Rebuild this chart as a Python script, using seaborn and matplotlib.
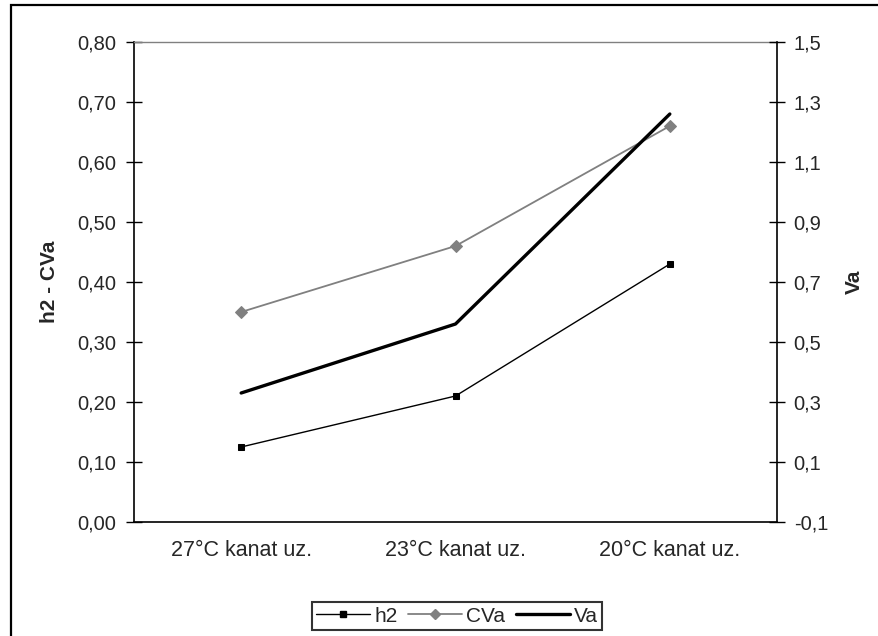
import matplotlib
matplotlib.use("Agg")
import matplotlib.pyplot as plt
from matplotlib.patches import Rectangle
from matplotlib.lines import Line2D
from matplotlib.ticker import FixedLocator, FuncFormatter
import seaborn as sns
import pandas as pd

# Data
categories = ["27°C kanat uz.", "23°C kanat uz.", "20°C kanat uz."]
h2 = [0.125, 0.21, 0.43]
cva = [0.35, 0.46, 0.66]
va = [0.33, 0.56, 1.26]

left_ticks = [0.0, 0.1, 0.2, 0.3, 0.4, 0.5, 0.6, 0.7, 0.8]
right_ticks = [-0.1, 0.1, 0.3, 0.5, 0.7, 0.9, 1.1, 1.3, 1.5]

sns.set_style("white")
plt.rcParams["font.family"] = ["Liberation Sans", "DejaVu Sans"]
plt.rcParams["font.size"] = 15

pos = list(range(len(categories)))
df = pd.DataFrame({"pos": pos, "cat": categories, "h2": h2, "CVa": cva, "Va": va})

fig = plt.figure(figsize=(8.79, 6.36), dpi=100)
ax = fig.add_axes([134 / 879, 1 - 522 / 636, (777 - 134) / 879, (522 - 42) / 636])
ax2 = ax.twinx()

sns.lineplot(data=df, x="pos", y="h2", ax=ax, color="black", linewidth=1.0,
             marker="s", markersize=4.5, markeredgecolor="black", legend=False)
sns.lineplot(data=df, x="pos", y="CVa", ax=ax, color="#808080", linewidth=1.3,
             marker="D", markersize=6, markeredgecolor="#808080", legend=False)
sns.lineplot(data=df, x="pos", y="Va", ax=ax2, color="black", linewidth=2.4,
             legend=False)

ax.set_xlim(-0.5, len(categories) - 0.5)
ax.set_ylim(0, 0.8)
ax2.set_ylim(-0.1, 1.5)

comma = lambda d: FuncFormatter(lambda v, p: f"{v:.{d}f}".replace(".", ","))
ax.yaxis.set_major_locator(FixedLocator(left_ticks))
ax.yaxis.set_major_formatter(comma(2))
ax2.yaxis.set_major_locator(FixedLocator(right_ticks))
ax2.yaxis.set_major_formatter(comma(1))

# category boundaries carry the tick marks, centres carry the labels
ax.xaxis.set_major_locator(FixedLocator([p - 0.5 for p in pos] + [pos[-1] + 0.5]))
ax.xaxis.set_major_formatter(FuncFormatter(lambda v, p: ""))
ax.xaxis.set_minor_locator(FixedLocator(pos))
ax.xaxis.set_minor_formatter(FuncFormatter(lambda v, p: categories[int(round(v))]))
ax.tick_params(axis="x", which="minor", length=0, pad=13, labelsize=15.5)
ax.tick_params(axis="x", which="major", direction="inout", length=11, width=1, color="black")
ax.tick_params(axis="y", direction="inout", length=11, width=1, color="black", pad=7.5, labelsize=14.5)
ax2.tick_params(axis="y", direction="inout", length=11, width=1, color="black", pad=6.5, labelsize=14.5)

ax.set_xlabel("")
ax.set_ylabel("h2 - CVa", fontweight="bold", fontsize=15)
ax2.set_ylabel("Va", fontweight="bold", fontsize=15)
ax.yaxis.set_label_coords((59 - 134) / 643, 0.5)
ax2.yaxis.set_label_coords((845 - 134) / 643, 0.5)

for name, sp in ax.spines.items():
    sp.set_visible(True)
    sp.set_color("black")
    sp.set_linewidth(1.2)
ax.spines["top"].set_color("#808080")
ax.spines["top"].set_linewidth(1.0)
ax.spines["right"].set_visible(False)
for name in ["left", "top", "bottom"]:
    ax2.spines[name].set_visible(False)
ax2.spines["right"].set_color("black")
ax2.spines["right"].set_linewidth(1.2)

handles = [
    Line2D([], [], color="black", linewidth=1.0, marker="s", markersize=4.5),
    Line2D([], [], color="#808080", linewidth=1.3, marker="D", markersize=5),
    Line2D([], [], color="black", linewidth=2.4),
]
leg = fig.legend(handles, ["h2", "CVa", "Va"], loc="center",
                 bbox_to_anchor=(457 / 879, 1 - 616 / 636), ncol=3,
                 frameon=True, fancybox=False, edgecolor="black",
                 handlelength=2.6, handletextpad=0.2, columnspacing=0.5,
                 borderpad=0.2, borderaxespad=0, fontsize=15)
leg.get_frame().set_linewidth(1.5)

fig.patches.append(Rectangle((11 / 879, -0.05), 1.2, 1 - 5 / 636 + 0.05,
                             transform=fig.transFigure, fill=False,
                             edgecolor="black", linewidth=1.6))

fig.savefig("out.png", dpi=100)
